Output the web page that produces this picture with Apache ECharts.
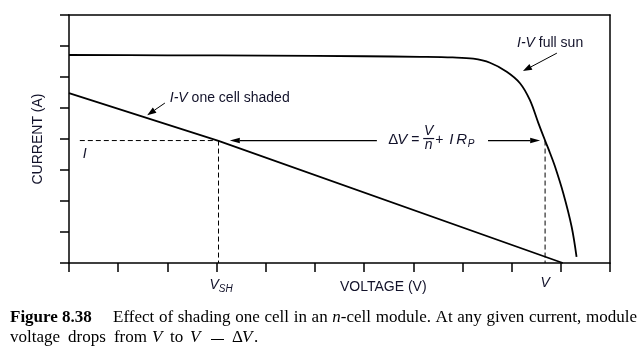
<!DOCTYPE html>
<html><head><meta charset="utf-8">
<script src="https://cdn.jsdelivr.net/npm/echarts@6/dist/echarts.min.js"></script>
<style>html,body{margin:0;padding:0;background:#fff}#c{width:644px;height:358px}</style>
</head><body><div id="c"></div>
<script>
// ---- data ----
const fullSunV = [0, 2, 4, 6, 7.14, 7.8, 8.22, 8.56, 8.9, 9.17, 9.37, 9.54, 9.68, 9.78, 9.88, 10.05, 10.22, 10.32];
const fullSunI = [6.71, 6.70, 6.69, 6.67, 6.65, 6.63, 6.59, 6.46, 6.17, 5.80, 5.26, 4.53, 3.95, 3.55, 3.12, 2.25, 1.17, 0.2];
const shadedV = [0, 3.04, 10.04];
const shadedI = [5.48, 3.94, 0];
const opCurrent = 3.95;       // I
const opVoltageShaded = 3.04; // V_SH
const opVoltageFull = 9.68;   // V
const xMax = 11;
const yMax = 8;

const ink = '#000';
const txt = '#12122a';
const sans = '"Liberation Sans", Arial, sans-serif';
const serif = '"Liberation Serif", "Times New Roman", serif';

const zip = (a, b) => a.map((v, i) => [v, b[i]]);

const chart = echarts.init(document.getElementById('c'), null, {renderer: 'canvas'});
const axBase = {
  type: 'value', min: 0, splitLine: {show: false}, axisLabel: {show: false}
};
chart.setOption({
  animation: false,
  backgroundColor: '#fff',
  grid: {left: 69, right: 34, top: 15, bottom: 95},
  xAxis: [
    Object.assign({}, axBase, {max: xMax, interval: 1, position: 'bottom',
      axisLine: {onZero: false, lineStyle: {color: ink, width: 1.5}},
      axisTick: {show: true, inside: false, length: 9, lineStyle: {color: ink, width: 1.5}}}),
    Object.assign({}, axBase, {max: xMax, interval: 1, position: 'top',
      axisLine: {onZero: false, lineStyle: {color: ink, width: 1.5}}, axisTick: {show: false}})
  ],
  yAxis: [
    Object.assign({}, axBase, {max: yMax, interval: 1, position: 'left',
      name: 'CURRENT (A)', nameLocation: 'middle', nameGap: 24,
      nameTextStyle: {fontFamily: sans, fontSize: 14, color: txt},
      axisLine: {onZero: false, lineStyle: {color: ink, width: 1.5}},
      axisTick: {show: true, inside: false, length: 9, lineStyle: {color: ink, width: 1.5}}}),
    Object.assign({}, axBase, {max: yMax, interval: 1, position: 'right',
      axisLine: {onZero: false, lineStyle: {color: ink, width: 1.5}}, axisTick: {show: false}})
  ],
  series: [
    {type: 'line', name: 'I-V full sun', data: zip(fullSunV, fullSunI), showSymbol: false,
     smooth: 0.35, lineStyle: {color: ink, width: 1.8}},
    {type: 'line', name: 'I-V one cell shaded', data: zip(shadedV, shadedI), showSymbol: false,
     lineStyle: {color: ink, width: 1.8}},
    {type: 'line', data: [[0.22, opCurrent], [opVoltageShaded, opCurrent]], showSymbol: false,
     lineStyle: {color: ink, width: 1, type: [5, 3]}},
    {type: 'line', data: [[opVoltageShaded, opCurrent], [opVoltageShaded, 0]], showSymbol: false,
     lineStyle: {color: ink, width: 1, type: [5, 3]}},
    {type: 'line', data: [[opVoltageFull, opCurrent], [opVoltageFull, 0]], showSymbol: false,
     lineStyle: {color: ink, width: 1, type: [5, 3]}}
  ]
});

const px = (x, y) => chart.convertToPixel({gridIndex: 0}, [x, y]);
const g = [];
function text(t, x, y, opt) {
  g.push({type: 'text', silent: true, style: Object.assign({
    text: t, x: x, y: y, fill: txt, font: '14px ' + sans, align: 'left', verticalAlign: 'middle'}, opt || {})});
}
function arrow(t, h, len, half, w) {
  const dx = h[0] - t[0], dy = h[1] - t[1], L = Math.hypot(dx, dy);
  const ux = dx / L, uy = dy / L;
  const bx = h[0] - ux * len, by = h[1] - uy * len;
  g.push({type: 'line', silent: true, shape: {x1: t[0], y1: t[1], x2: bx, y2: by},
          style: {stroke: ink, lineWidth: w || 1}});
  g.push({type: 'polygon', silent: true, shape: {points: [[h[0], h[1]],
          [bx - uy * half, by + ux * half], [bx + uy * half, by - ux * half]]}, style: {fill: ink}});
}

// annotation anchors (data units)
const sLab = px(2.05, 5.32);
text('{i|I-V} one cell shaded', sLab[0], sLab[1], {rich: {i: {font: 'italic 14px ' + sans, fill: txt}}});
arrow(px(1.95, 5.16), px(1.59, 4.77), 9, 3.2, 1);
const fLab = px(9.11, 7.10);
text('{i|I-V} full sun', fLab[0], fLab[1], {rich: {i: {font: 'italic 14px ' + sans, fill: txt}}});
arrow(px(9.92, 6.77), px(9.23, 6.19), 9, 3.2, 1);

arrow(px(6.26, opCurrent), px(3.27, opCurrent), 10, 2.8, 1.2);
arrow(px(8.52, opCurrent), px(9.58, opCurrent), 10, 2.8, 1.2);

// formula  ΔV = V/n + I R_P
const fb = px(6.49, opCurrent);
const fx = fb[0], fy = fb[1] - 0.5;
text('Δ', fx, fy, {font: '15px ' + sans});
text('V', fx + 9, fy, {font: 'italic 15px ' + sans});
text('=', fx + 23, fy, {font: '14px ' + sans});
text('V', fx + 40.5, fy - 8.5, {font: 'italic 14px ' + sans, align: 'center'});
g.push({type: 'line', silent: true, shape: {x1: fx + 35, y1: fy - 1.5, x2: fx + 46, y2: fy - 1.5}, style: {stroke: txt, lineWidth: 1.2}});
text('n', fx + 40.5, fy + 5, {font: 'italic 14px ' + sans, align: 'center'});
text('+', fx + 47, fy, {font: '14px ' + sans});
text('I', fx + 61, fy, {font: 'italic 15px ' + sans});
text('R', fx + 68, fy, {font: 'italic 15px ' + sans});
text('P', fx + 79.5, fy + 4, {font: 'italic 10px ' + sans});

// point labels
const iLab = px(0.28, opCurrent);
text('I', iLab[0], iLab[1] + 14, {font: 'italic 14px ' + sans});
const vsh = px(opVoltageShaded, 0);
text('{i|V}{s|SH}', vsh[0] - 9, vsh[1] + 22, {rich: {i: {font: 'italic 14px ' + sans, fill: txt},
  s: {font: 'italic 10px ' + sans, fill: txt, padding: [8, 0, 0, 0]}}});
const vf = px(opVoltageFull, 0);
text('V', vf[0], vf[1] + 20, {font: 'italic 14px ' + sans, align: 'center'});
const vl = px(6.39, 0);
text('VOLTAGE (V)', vl[0], vl[1] + 24, {font: '14px ' + sans, align: 'center'});

// caption (justified first line)
const capFill = '#000';
const rg = '17px ' + serif, bd = 'bold 17px ' + serif, it = 'italic 17px ' + serif;
const mctx = document.createElement('canvas').getContext('2d');
const measure = pieces => pieces.reduce((w, p) => { mctx.font = p[1]; return w + mctx.measureText(p[0]).width; }, 0);
function capWord(pieces, x, y) {
  let cx = x;
  pieces.forEach(p => {
    g.push({type: 'text', silent: true, style: {text: p[0], x: cx, y: y, font: p[1], fill: capFill,
      align: 'left', verticalAlign: 'middle'}});
    mctx.font = p[1]; cx += mctx.measureText(p[0]).width;
  });
}
function justify(words, x0, x1, y) {
  const ws = words.map(w => typeof w === 'string' ? [[w, rg]] : w);
  const total = ws.reduce((s, w) => s + measure(w), 0);
  const gap = (x1 - x0 - total) / (ws.length - 1);
  let cx = x0;
  ws.forEach(w => { capWord(w, cx, y); cx += measure(w) + gap; });
}
capWord([['Figure 8.38', bd]], 10, 318);
justify(['Effect', 'of', 'shading', 'one', 'cell', 'in', 'an', [['n', it], ['-cell', rg]],
  'module.', 'At', 'any', 'given', 'current,', 'module'], 113, 637, 318);
// second line (TeX math spacing)
justify(['voltage', 'drops', 'from'], 10, 147, 338);
[['V', 152, it], ['to', 170, rg], ['V', 190, it], ['Δ', 232, rg], ['V', 242, it], ['.', 254, rg]]
  .forEach(w => capWord([[w[0], w[2]]], w[1], 338));
g.push({type: 'line', silent: true, shape: {x1: 211, y1: 339.5, x2: 224, y2: 339.5}, style: {stroke: capFill, lineWidth: 1}});

chart.setOption({graphic: g});
</script></body></html>
